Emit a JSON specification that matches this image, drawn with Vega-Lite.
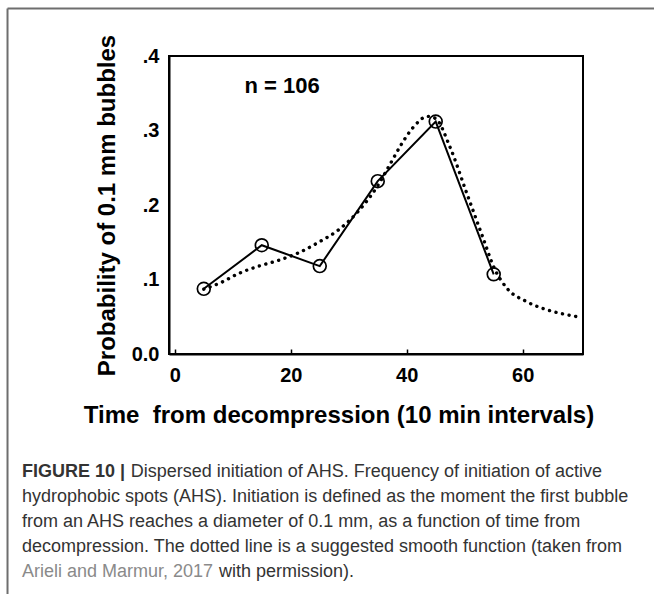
{
  "$schema": "https://vega.github.io/schema/vega-lite/v6.json",
  "width": 414,
  "height": 298,
  "autosize": {"type": "none"},
  "padding": {"left": 169, "top": 56, "right": 71, "bottom": 240},
  "background": "white",
  "config": {
    "view": {"stroke": "black", "strokeWidth": 2},
    "font": "Liberation Sans"
  },
  "datasets": {
    "observed": [
      {"minute": 5, "probability": 0.0875},
      {"minute": 15, "probability": 0.146},
      {"minute": 25, "probability": 0.118},
      {"minute": 35, "probability": 0.232},
      {"minute": 45, "probability": 0.312},
      {"minute": 55, "probability": 0.107}
    ],
    "smooth": [
      {"minute": 5, "probability": 0.087},
      {"minute": 8, "probability": 0.096},
      {"minute": 11, "probability": 0.108},
      {"minute": 14.5, "probability": 0.118},
      {"minute": 18, "probability": 0.126},
      {"minute": 21.4, "probability": 0.136},
      {"minute": 24.8, "probability": 0.15},
      {"minute": 28.3, "probability": 0.167},
      {"minute": 31.7, "probability": 0.192},
      {"minute": 35, "probability": 0.226},
      {"minute": 37, "probability": 0.253},
      {"minute": 39.2, "probability": 0.283},
      {"minute": 41.2, "probability": 0.305},
      {"minute": 43.6, "probability": 0.319},
      {"minute": 45, "probability": 0.316},
      {"minute": 47.4, "probability": 0.279},
      {"minute": 50.3, "probability": 0.217},
      {"minute": 53.2, "probability": 0.155},
      {"minute": 55, "probability": 0.117},
      {"minute": 57.3, "probability": 0.088},
      {"minute": 60.5, "probability": 0.071},
      {"minute": 63.9, "probability": 0.06},
      {"minute": 66.8, "probability": 0.054},
      {"minute": 69.5, "probability": 0.05}
    ]
  },
  "layer": [
    {
      "data": {"name": "smooth"},
      "mark": {"type": "line", "interpolate": "monotone", "color": "black", "strokeWidth": 3.4, "strokeDash": [0.1, 6.6], "strokeCap": "round"},
      "encoding": {
        "x": {
          "field": "minute", "type": "quantitative",
          "scale": {"domain": [-1, 70.4], "nice": false, "zero": false},
          "axis": {
            "title": "Time\u00a0 from decompression (10 min intervals)",
            "values": [0, 20, 40, 60], "format": "d", "grid": false,
            "domainColor": "black", "domainWidth": 2,
            "ticks": true, "tickSize": -5, "tickColor": "black", "tickWidth": 1.5,
            "labelFont": "Liberation Sans", "labelFontWeight": "bold", "labelFontSize": 20, "labelColor": "black",
            "labelPadding": 16,
            "titleFont": "Liberation Sans", "titleFontWeight": "bold", "titleFontSize": 24, "titleColor": "black",
            "titlePadding": 18, "titleX": 169.5, "titleAlign": "center"
          }
        },
        "y": {
          "field": "probability", "type": "quantitative",
          "scale": {"domain": [0, 0.4], "nice": false},
          "axis": {
            "title": "Probability of 0.1 mm bubbles",
            "values": [0, 0.1, 0.2, 0.3, 0.4], "grid": false,
            "labelExpr": "datum.value == 0 ? '0.0' : replace(format(datum.value, '.1f'), '0.', '.')",
            "domainColor": "black", "domainWidth": 2, "ticks": false,
            "labelFont": "Liberation Sans", "labelFontWeight": "bold", "labelFontSize": 20, "labelColor": "black",
            "labelPadding": 10,
            "titleFont": "Liberation Sans", "titleFontWeight": "bold", "titleFontSize": 24, "titleColor": "black",
            "titlePadding": 12
          }
        }
      }
    },
    {
      "data": {"name": "observed"},
      "mark": {"type": "line", "color": "black", "strokeWidth": 2},
      "encoding": {
        "x": {"field": "minute", "type": "quantitative"},
        "y": {"field": "probability", "type": "quantitative"}
      }
    },
    {
      "data": {"name": "observed"},
      "mark": {"type": "point", "shape": "circle", "filled": false, "color": "black", "strokeWidth": 1.7, "size": 165, "opacity": 1},
      "encoding": {
        "x": {"field": "minute", "type": "quantitative"},
        "y": {"field": "probability", "type": "quantitative"}
      }
    },
    {
      "data": {"values": [{}]},
      "mark": {"type": "text", "font": "Liberation Sans", "fontWeight": "bold", "fontSize": 22, "color": "black", "align": "center", "baseline": "middle"},
      "encoding": {
        "x": {"datum": 18.5},
        "y": {"datum": 0.36},
        "text": {"value": "n = 106"}
      }
    },
    {
      "data": {"values": [{}]},
      "mark": {"type": "text", "font": "Liberation Sans", "fontWeight": "bold", "fontSize": 18, "color": "#333333", "align": "left", "baseline": "alphabetic"},
      "encoding": {
        "x": {"datum": -26.35},
        "y": {"datum": -0.1651},
        "text": {"value": "FIGURE 10 |"}
      }
    },
    {
      "data": {"values": [{}]},
      "mark": {"type": "text", "font": "Liberation Sans", "fontSize": 18, "color": "#333333", "align": "left", "baseline": "alphabetic"},
      "encoding": {
        "x": {"datum": -7.6},
        "y": {"datum": -0.1651},
        "text": {"value": "Dispersed initiation of AHS. Frequency of initiation of active"}
      }
    },
    {
      "data": {"values": [{}]},
      "mark": {"type": "text", "font": "Liberation Sans", "fontSize": 18, "color": "#333333", "align": "left", "baseline": "alphabetic", "lineHeight": 25},
      "encoding": {
        "x": {"datum": -26.35},
        "y": {"datum": -0.1987},
        "text": {"value": [
          "hydrophobic spots (AHS). Initiation is defined as the moment the first bubble",
          "from an AHS reaches a diameter of 0.1 mm, as a function of time from",
          "decompression. The dotted line is a suggested smooth function (taken from"
        ]}
      }
    },
    {
      "data": {"values": [{}]},
      "mark": {"type": "text", "font": "Liberation Sans", "fontSize": 18, "color": "#8a8a8a", "align": "left", "baseline": "alphabetic"},
      "encoding": {
        "x": {"datum": -26.35},
        "y": {"datum": -0.2993},
        "text": {"value": "Arieli and Marmur, 2017"}
      }
    },
    {
      "data": {"values": [{}]},
      "mark": {"type": "text", "font": "Liberation Sans", "fontSize": 18, "color": "#333333", "align": "left", "baseline": "alphabetic"},
      "encoding": {
        "x": {"datum": 7.62},
        "y": {"datum": -0.2993},
        "text": {"value": "with permission)."}
      }
    },
    {
      "data": {"values": [{}]},
      "mark": {"type": "rule", "color": "#6e6e6e", "strokeWidth": 2},
      "encoding": {
        "x": {"datum": -28.85},
        "y": {"datum": 0.4638},
        "y2": {"datum": -0.35}
      }
    },
    {
      "data": {"values": [{}]},
      "mark": {"type": "rule", "color": "#6e6e6e", "strokeWidth": 2},
      "encoding": {
        "x": {"datum": -28.85},
        "x2": {"datum": 84},
        "y": {"datum": 0.4638}
      }
    }
  ]
}
